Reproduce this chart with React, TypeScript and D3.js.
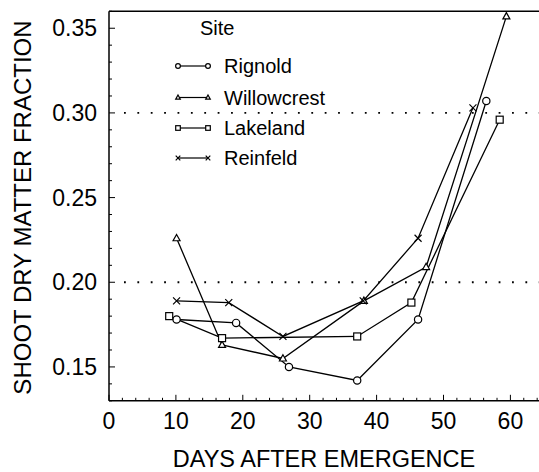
import React from 'react';
import * as d3 from 'd3';

const siteNames = ['Rignold', 'Willowcrest', 'Lakeland', 'Reinfeld'];
const siteShapes = ['circle', 'triangle', 'square', 'cross'];

const rignoldDays = [10.1, 19.0, 26.9, 37.1, 46.2, 56.4];
const rignoldVals = [0.178, 0.176, 0.150, 0.142, 0.178, 0.307];
const willowcrestDays = [10.1, 16.9, 26.0, 38.1, 47.4, 59.4];
const willowcrestVals = [0.226, 0.163, 0.155, 0.189, 0.209, 0.357];
const lakelandDays = [9.0, 16.9, 37.1, 45.2, 58.4];
const lakelandVals = [0.180, 0.167, 0.168, 0.188, 0.296];
const reinfeldDays = [10.1, 17.9, 26.0, 38.0, 46.2, 54.4];
const reinfeldVals = [0.189, 0.188, 0.168, 0.189, 0.226, 0.303];

const xTicks = [0, 10, 20, 30, 40, 50, 60];
const yTicks = [0.15, 0.2, 0.25, 0.3, 0.35];
const refLines = [0.2, 0.3];
const xTitle = 'DAYS AFTER EMERGENCE';
const yTitle = 'SHOOT DRY MATTER FRACTION';
const legendTitle = 'Site';

const FONT = 'Liberation Sans, Arial, Helvetica, sans-serif';

function Marker({ shape, cx, cy, s }: { shape: string; cx: number; cy: number; s: number }) {
  const common = { fill: '#fff', stroke: '#000', strokeWidth: 1.2 };
  if (shape === 'circle') return <circle cx={cx} cy={cy} r={s * 0.52} {...common} />;
  if (shape === 'square')
    return <rect x={cx - s / 2} y={cy - s / 2} width={s} height={s} {...common} />;
  if (shape === 'triangle') {
    const h = s * 0.9;
    const p = `M${cx},${cy - h * 0.6}L${cx + s / 2},${cy + h * 0.4}L${cx - s / 2},${cy + h * 0.4}Z`;
    return <path d={p} {...common} />;
  }
  const r = s / 2;
  return (
    <path
      d={`M${cx - r},${cy - r}L${cx + r},${cy + r}M${cx - r},${cy + r}L${cx + r},${cy - r}`}
      stroke="#000"
      strokeWidth={1.2}
      fill="none"
    />
  );
}

export default function App() {
  const x = d3.scaleLinear().domain([0, 65]).range([109, 109 + 65 * 6.69]);
  const y = d3.scaleLinear().domain([0.13, 0.36]).range([400.8, 11.3]);
  const line = d3
    .line<[number, number]>()
    .x((d) => x(d[0]))
    .y((d) => y(d[1]));

  const series = [
    { days: rignoldDays, vals: rignoldVals },
    { days: willowcrestDays, vals: willowcrestVals },
    { days: lakelandDays, vals: lakelandVals },
    { days: reinfeldDays, vals: reinfeldVals },
  ].map((s, i) => ({
    name: siteNames[i],
    shape: siteShapes[i],
    pts: s.days.map((d, j) => [d, s.vals[j]] as [number, number]),
  }));

  const xMinor = d3.range(0, 65, 2);
  const yMinor = d3.range(13, 37).map((v) => v / 100);
  const [x0, x1] = x.range();
  const [yb, yt] = y.range();

  const legendRows = [66, 97.5, 128, 158];

  return (
    <svg
      width={539}
      height={472}
      style={{ position: 'absolute', left: 0, top: 0, background: '#fff' }}
      fontFamily={FONT}
    >
      <rect x={0} y={0} width={539} height={472} fill="#fff" />
      {/* reference dotted lines */}
      {refLines.map((v) => (
        <line
          key={v}
          x1={124}
          x2={x1}
          y1={y(v)}
          y2={y(v)}
          stroke="#000"
          strokeWidth={1.8}
          strokeDasharray="1.8 11.58"
        />
      ))}
      {/* frame */}
      <line x1={x0} x2={x0} y1={yt} y2={yb} stroke="#000" strokeWidth={1.5} />
      <line x1={x0} x2={x1} y1={yb} y2={yb} stroke="#000" strokeWidth={1.5} />
      <line x1={x0} x2={x1} y1={yt} y2={yt} stroke="#000" strokeWidth={1.5} />
      {/* x ticks */}
      {xMinor.map((v) => (
        <line
          key={'xm' + v}
          x1={x(v)}
          x2={x(v)}
          y1={yb}
          y2={yb - (v % 10 === 0 ? 6 : 3)}
          stroke="#000"
          strokeWidth={1}
        />
      ))}
      {xTicks.map((v) => (
        <text key={'xt' + v} x={x(v)} y={429} textAnchor="middle" fontSize={23}>
          {v}
        </text>
      ))}
      {/* y ticks */}
      {yMinor.map((v) => (
        <line
          key={'ym' + v}
          x1={x0}
          x2={x0 + (Math.round(v * 100) % 5 === 0 ? 6 : 3)}
          y1={y(v)}
          y2={y(v)}
          stroke="#000"
          strokeWidth={1}
        />
      ))}
      {yTicks.map((v) => (
        <text
          key={'yt' + v}
          x={97}
          y={y(v) + 8}
          textAnchor="end"
          fontSize={23}
        >
          {v.toFixed(2)}
        </text>
      ))}
      {/* titles */}
      <text x={324} y={467} textAnchor="middle" fontSize={23.5}>
        {xTitle}
      </text>
      <text
        transform={`translate(31,207.5) rotate(-90)`}
        textAnchor="middle"
        fontSize={24}
      >
        {yTitle}
      </text>
      {/* series */}
      {series.map((s) => (
        <path key={s.name} d={line(s.pts) || ''} fill="none" stroke="#000" strokeWidth={1.3} />
      ))}
      {series.map((s) =>
        s.pts.map((p, j) => (
          <Marker key={s.name + j} shape={s.shape} cx={x(p[0])} cy={y(p[1])} s={7} />
        ))
      )}
      {/* legend */}
      <text x={200} y={35} fontSize={20}>
        {legendTitle}
      </text>
      {series.map((s, i) => (
        <g key={'lg' + s.name}>
          <line x1={178} x2={208} y1={legendRows[i]} y2={legendRows[i]} stroke="#000" strokeWidth={1.2} />
          <Marker shape={s.shape} cx={178} cy={legendRows[i]} s={4.6} />
          <Marker shape={s.shape} cx={208} cy={legendRows[i]} s={4.6} />
          <text x={224} y={legendRows[i] + 7.3} fontSize={20}>
            {s.name}
          </text>
        </g>
      ))}
    </svg>
  );
}
